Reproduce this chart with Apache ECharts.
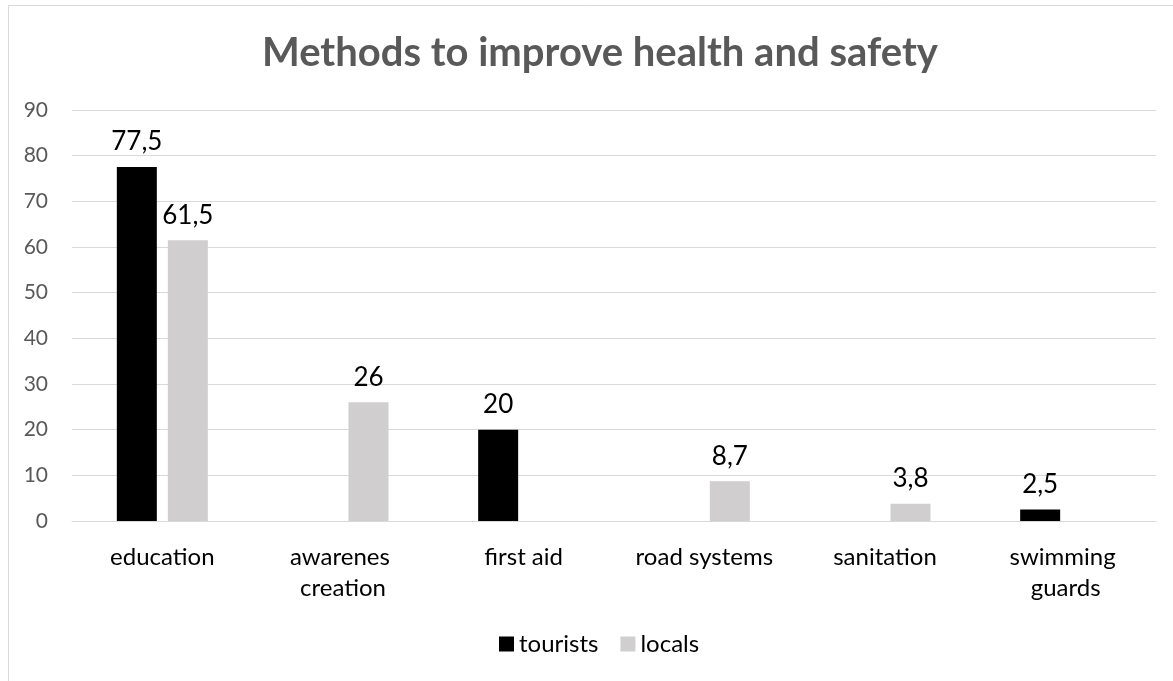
<!DOCTYPE html>
<html>
<head>
<meta charset="utf-8">
<script src="https://cdn.jsdelivr.net/npm/echarts@6/dist/echarts.min.js"></script>
<style>
html,body{margin:0;padding:0;background:#fff;}
#c{width:1173px;height:681px;}
</style>
</head>
<body>
<div id="c"></div>
<script>
const titleText = 'Methods to improve health and safety';
const categories = ['education', 'awarenes creation', 'first aid', 'road systems', 'sanitation', 'swimming guards'];
const tourists = [77.5, null, 20, null, null, 2.5];
const locals = [61.5, 26, null, 8.7, 3.8, null];
const yTicks = {min: 0, max: 90, interval: 10};

const FONT = 'Lato';
const chart = echarts.init(document.getElementById('c'));
const valLabel = {
  show: true, position: 'top', distance: 12,
  color: '#000', fontFamily: FONT, fontSize: 26,
  formatter: p => (p.value == null ? '' : String(p.value).replace('.', ','))
};
chart.setOption({
  animation: false,
  backgroundColor: '#fff',
  title: {
    text: titleText, left: 257, top: 28,
    textStyle: {fontFamily: FONT, fontWeight: 'bold', fontSize: 40, color: '#595959'}
  },
  graphic: [{
    type: 'rect', shape: {x: 8.5, y: 5.5, width: 1200, height: 700},
    style: {fill: 'none', stroke: '#D9D9D9', lineWidth: 1}, silent: true
  }],
  legend: {
    bottom: 20, left: 494, itemWidth: 15, itemHeight: 15, itemGap: 22,
    icon: 'rect',
    textStyle: {fontFamily: FONT, fontSize: 24, color: '#000'},
    data: ['tourists', 'locals']
  },
  grid: {left: 72, right: 17, top: 110, bottom: 160, containLabel: false},
  xAxis: {
    type: 'category', data: categories,
    axisLine: {lineStyle: {color: '#D9D9D9'}},
    axisTick: {show: false},
    axisLabel: {
      fontFamily: FONT, fontSize: 24, color: '#000', margin: 21,
      width: 165, overflow: 'break', lineHeight: 31, interval: 0
    }
  },
  yAxis: {
    type: 'value', min: yTicks.min, max: yTicks.max, interval: yTicks.interval,
    axisLine: {show: false}, axisTick: {show: false},
    splitLine: {lineStyle: {color: '#D9D9D9', width: 1}},
    axisLabel: {fontFamily: FONT, fontSize: 21, color: '#595959', margin: 24}
  },
  series: [
    {name: 'tourists', type: 'bar', data: tourists, barWidth: 40, barGap: '27.5%',
     itemStyle: {color: '#000000'}, label: valLabel},
    {name: 'locals', type: 'bar', data: locals, barWidth: 40,
     itemStyle: {color: '#D0CECE'}, label: valLabel}
  ]
});
</script>
</body>
</html>
